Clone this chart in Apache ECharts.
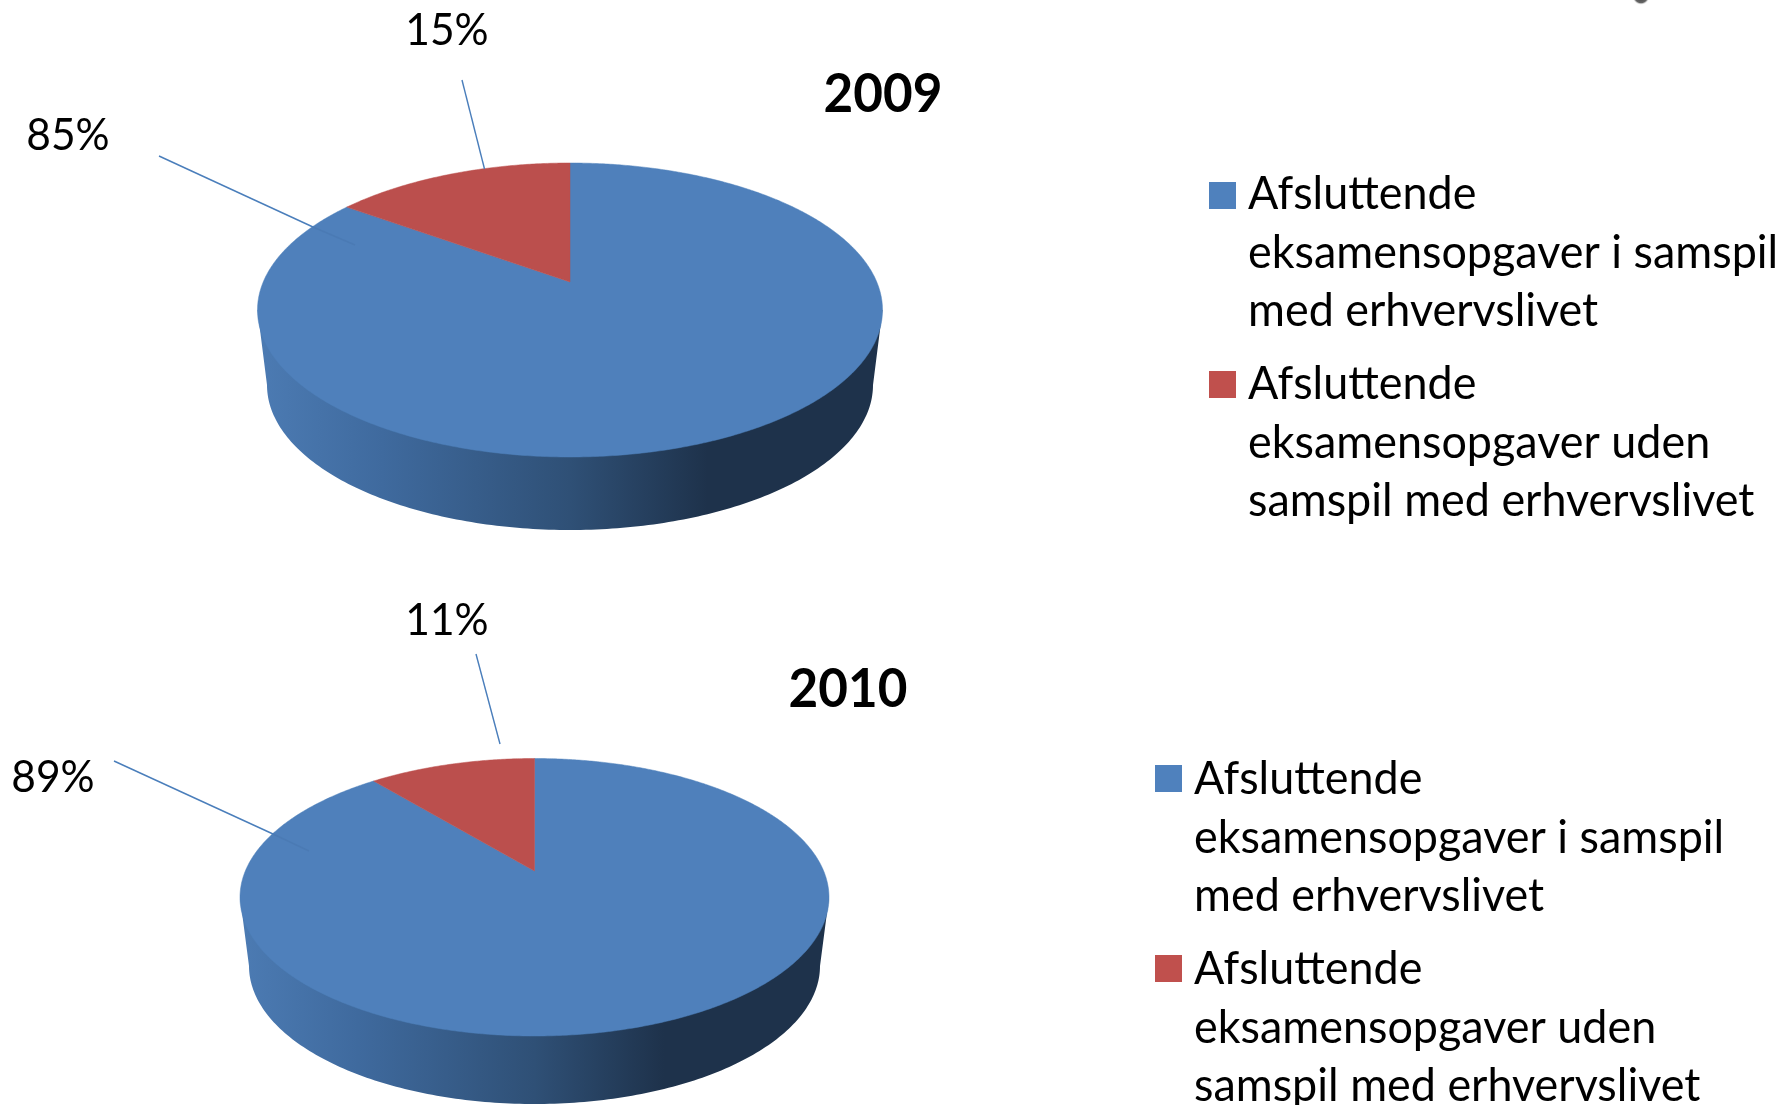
<!DOCTYPE html>
<html><head><meta charset="utf-8">
<style>html,body{margin:0;padding:0;background:#fff}#c{width:1783px;height:1105px}</style>
<script src="https://cdn.jsdelivr.net/npm/echarts@6/dist/echarts.min.js"></script>
</head><body><div id="c"></div>
<script>
const categories = ['Afsluttende\neksamensopgaver i samspil\nmed erhvervslivet','Afsluttende\neksamensopgaver uden\nsamspil med erhvervslivet'];
const years = ['2009','2010'];
const values2009 = [85,15];
const values2010 = [89,11];
const colors = ['#4f80bb','#bb4f4d'];
const swatchColors = ['#4f81bd','#c0504d'];

const FONT = 'Lato, Carlito, Calibri, sans-serif';

// Perspective layout: top disc + lower disc of each pie
const layouts = [
  {cx:570, apexY:282, top:163, bottom:457, rx:312.5, botCy:385, botRx:303, botRy:145,
   title:[883,95], labels:[[68,136],[447,31]],
   leaders:[[[159,156],[313,227]],[[462,80],[484.5,169]]], inner:[[313,227],[355,245]],
   legendX:1209, textX:1248, swatchY:[182,371], textY:[253,443]},
  {cx:534.5, apexY:871, top:758.5, bottom:1036, rx:294.5, botCy:966, botRx:285.5, botRy:138,
   title:[848,690], labels:[[53,778],[447,621]],
   leaders:[[[114,761],[273,834]],[[476,654],[500,744]]], inner:[[273,834],[309,851]],
   legendX:1155, textX:1194, swatchY:[765,955], textY:[838,1028]}
];

function projector(L){
  const up = L.apexY - L.top, dn = L.bottom - L.apexY;
  const k = (dn - up) / (dn + up);
  const b = up * (1 + k);
  const a = L.rx * Math.sqrt(1 - k * k);
  return function(theta){
    const u = Math.sin(theta), v = Math.cos(theta), w = 1 + k * v;
    return [L.cx + a * u / w, L.apexY - b * v / w];
  };
}

function wallShape(L){
  const midY = (L.top + L.bottom) / 2, pts = [[L.cx - L.rx, midY]];
  for (let i = 0; i <= 180; i++){
    const t = Math.PI * i / 180;
    pts.push([L.cx - L.botRx * Math.cos(t), L.botCy + L.botRy * Math.sin(t)]);
  }
  pts.push([L.cx + L.rx, midY]);
  return pts;
}

function pieSeries(name, values, L){
  const project = projector(L);
  const total = values.reduce((s, v) => s + v, 0);
  return {
    type:'custom', name, coordinateSystem:'none', silent:true, animation:false,
    data: values.map(v => [v]),
    renderItem(params, api){
      const idx = params.dataIndex;
      const before = values.slice(0, idx).reduce((s, v) => s + v, 0);
      const start = before / total * Math.PI * 2;
      const end = (before + api.value(0)) / total * Math.PI * 2;
      const n = Math.max(8, Math.round((end - start) / (Math.PI * 2) * 720));
      const pts = [[L.cx, L.apexY]];
      for (let i = 0; i <= n; i++) pts.push(project(start + (end - start) * i / n));
      const children = [];
      if (start <= Math.PI && end >= Math.PI){
        children.push({type:'polygon', shape:{points:wallShape(L)}, style:{
          fill:new echarts.graphic.LinearGradient(0,0,1,0,[
            {offset:0,color:'#4c7bb3'},{offset:0.2,color:'#3f6a9e'},
            {offset:0.5,color:'#2f5076'},{offset:0.72,color:'#1e324b'},{offset:1,color:'#1e324b'}])
        }});
      }
      children.push({type:'polygon', shape:{points:pts}, style:{fill:colors[idx], stroke:colors[idx], lineWidth:0.5}});
      return {type:'group', children};
    }
  };
}

function scaledText(x, y, text, size, scale, align, weight, lineHeight){
  return {type:'text', x, y, scaleX:scale, z:10, silent:true,
    style:{x:0, y:0, text, fill:'#000', align, verticalAlign:'middle',
      font:`${weight||'normal'} ${size}px ${FONT}`, lineHeight:lineHeight||undefined}};
}

const allValues = [values2009, values2010];
const graphics = [];
layouts.forEach((L, p) => {
  graphics.push(scaledText(L.title[0], L.title[1], years[p], 54, 0.948, 'center', 'bold'));
  allValues[p].forEach((v, i) => {
    graphics.push(scaledText(L.labels[i][0], L.labels[i][1], v + '%', 44, 0.966, 'center'));
    const s = L.leaders[i];
    graphics.push({type:'line', z:10, silent:true, shape:{x1:s[0][0],y1:s[0][1],x2:s[1][0],y2:s[1][1]},
      style:{stroke:'#4a7ebb', lineWidth:1.4}});
    graphics.push({type:'rect', z:10, silent:true, shape:{x:L.legendX,y:L.swatchY[i],width:27,height:27},
      style:{fill:swatchColors[i]}});
    graphics.push(scaledText(L.textX, L.textY[i], categories[i], 46, 0.976, 'left', 'normal', 58.6));
  });
  graphics.push({type:'line', z:10, silent:true, shape:{x1:L.inner[0][0],y1:L.inner[0][1],x2:L.inner[1][0],y2:L.inner[1][1]},
    style:{stroke:'#4b7ab4', lineWidth:1.4}});
});
graphics.push({type:'ellipse', z:10, silent:true, shape:{cx:1641,cy:-4,rx:30,ry:9},
  style:{fill:new echarts.graphic.RadialGradient(0.5,0.5,0.5,[
    {offset:0,color:'#3a3a3a'},{offset:0.75,color:'#666'},{offset:1,color:'rgba(255,255,255,0)'}])}});

const chart = echarts.init(document.getElementById('c'), null, {renderer:'canvas'});
chart.setOption({
  backgroundColor:'#fff', animation:false,
  series:[pieSeries(years[0], values2009, layouts[0]), pieSeries(years[1], values2010, layouts[1])],
  graphic:{elements:graphics}
});
</script></body></html>
